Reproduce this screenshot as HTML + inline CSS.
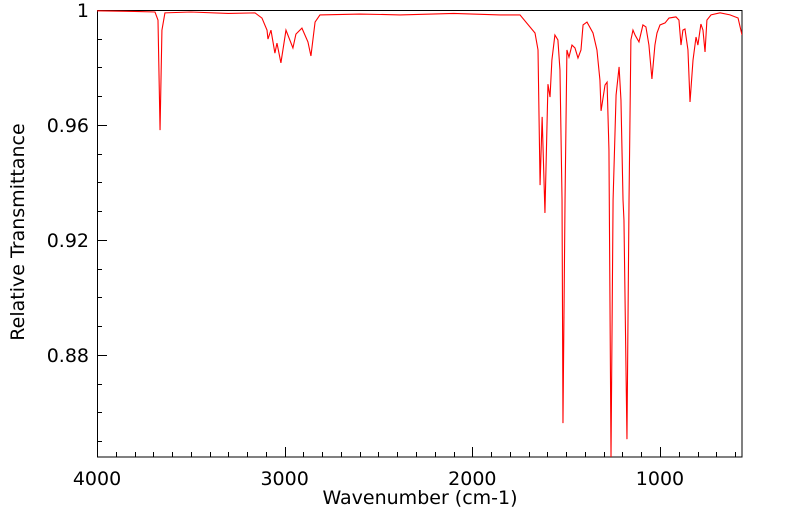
<!DOCTYPE html>
<html><head><meta charset="utf-8"><style>
body{margin:0;background:#fff}
svg text{font-family:"DejaVu Sans","Liberation Sans",sans-serif;fill:#000}
</style></head><body>
<svg id="chart" width="799" height="516" viewBox="0 0 799 516" xmlns="http://www.w3.org/2000/svg">
<defs><clipPath id="clip"><rect x="97" y="10" width="645" height="447"/></clipPath></defs>
<rect x="97.5" y="10.5" width="644.5" height="446.5" fill="none" stroke="#000" stroke-width="1"/>
<g id="ticks"></g>
<path id="series" clip-path="url(#clip)" fill="none" stroke="#ff0000" stroke-width="1.1"/>
<text x="420" y="504" font-size="19" text-anchor="middle">Wavenumber (cm-1)</text>
<text x="24" y="232" font-size="19" text-anchor="middle" transform="rotate(-90 24 232)">Relative Transmittance</text>
</svg>
<script>
const wavenumbers=[4000,3800,3691,3675,3664,3654,3638,3500,3300,3158,3121,3094,3089,3073,3052,3041,3020,2993,2956,2940,2908,2876,2860,2838,2812,2600,2385,2100,1853,1746,1666,1650,1639,1628,1613,1597,1586,1576,1560,1544,1533,1522,1517,1506,1496,1485,1469,1453,1437,1421,1410,1389,1357,1336,1320,1314,1293,1282,1272,1261,1250,1234,1218,1208,1197,1192,1176,1165,1155,1144,1133,1112,1091,1075,1059,1043,1027,1016,1000,973,952,915,899,888,878,867,851,840,824,808,798,782,771,760,750,728,680,627,584,563];
const transmittance=[0.9997,0.9995,0.9993,0.9965,0.9582,0.993,0.999,0.9993,0.9988,0.999,0.9972,0.993,0.9899,0.993,0.985,0.9885,0.9816,0.993,0.9868,0.9916,0.9937,0.9889,0.984,0.9958,0.9983,0.9986,0.9983,0.9988,0.9983,0.9983,0.992,0.9861,0.9391,0.9628,0.9294,0.9742,0.9697,0.9826,0.9913,0.9896,0.9791,0.9339,0.8563,0.9339,0.9861,0.9836,0.9878,0.9868,0.9833,0.9861,0.9948,0.9958,0.992,0.9861,0.9756,0.9649,0.9739,0.9749,0.9513,0.8444,0.9339,0.9704,0.9802,0.9687,0.9339,0.9269,0.8507,0.9339,0.9896,0.993,0.9913,0.9889,0.9948,0.9941,0.9878,0.976,0.9878,0.992,0.9948,0.9955,0.9972,0.9976,0.9965,0.9878,0.993,0.9934,0.9861,0.968,0.9826,0.9906,0.9878,0.9951,0.993,0.9854,0.9965,0.9983,0.999,0.9983,0.9972,0.9913];
const xTickLabels=["4000","3000","2000","1000"];
const yTickLabels=["1","0.96","0.92","0.88"];
const X0=97,X1=742,Y0=10,Y1=457;
const WMAX=4000,WMIN=563,TMAX=1,TMIN=0.8445;
function xs(w){return X0+(WMAX-w)/(WMAX-WMIN)*(X1-X0);}
function ys(t){return Y0+(TMAX-t)/(TMAX-TMIN)*(Y1-Y0);}
let d="";
for(let i=0;i<wavenumbers.length;i++){d+=(i?"L":"M")+xs(wavenumbers[i]).toFixed(2)+","+ys(transmittance[i]).toFixed(2);}
document.getElementById('series').setAttribute('d',d);
const g=document.getElementById('ticks');const NS="http://www.w3.org/2000/svg";
function line(x1,y1,x2,y2,name){const l=document.createElementNS(NS,'line');
l.setAttribute('x1',x1);l.setAttribute('y1',y1);l.setAttribute('x2',x2);l.setAttribute('y2',y2);
l.setAttribute('stroke','#000');l.setAttribute('stroke-width','1');


g.appendChild(l);}
function text(x,y,s,anchor,name){const t=document.createElementNS(NS,'text');
t.setAttribute('x',x);t.setAttribute('y',y);t.setAttribute('font-size','19');t.setAttribute('text-anchor',anchor);t.textContent=s;


g.appendChild(t);}
for(let w=4000;w>=WMIN;w-=100){const x=Math.round(xs(w))+0.5;const major=w%1000===0;line(x,Y1,x,Y1-(major?10:5),major?'x-major-tick':'x-minor-tick');}
xTickLabels.forEach(s=>{text(xs(+s),485,s,'middle','x-tick-label');});
for(let k=100;k>=85;k--){const t=k/100;const y=Math.round(ys(t))+0.5;const major=(100-k)%4===0;line(X0,y,X0+(major?10:5),y,major?'y-major-tick':'y-minor-tick');}
yTickLabels.forEach(s=>{text(89,ys(+s)+7,s,'end','y-tick-label');});
</script>
</body></html>
